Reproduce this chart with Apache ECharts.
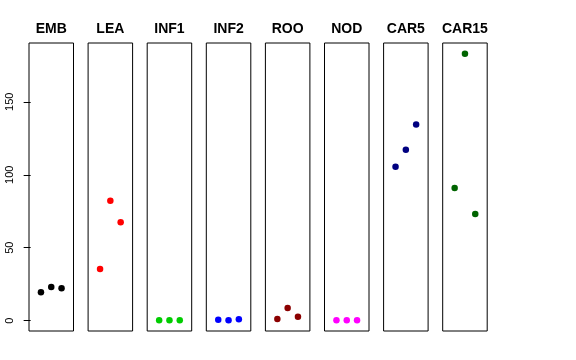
<!DOCTYPE html>
<html><head><meta charset="utf-8">
<script src="https://cdn.jsdelivr.net/npm/echarts@6/dist/echarts.min.js"></script>
<style>html,body{margin:0;padding:0;background:#fff}#c{width:576px;height:360px}</style>
</head><body><div id="c"></div>
<script>
const categories = ['EMB','LEA','INF1','INF2','ROO','NOD','CAR5','CAR15'];
const colors = ['#000000','#FF0000','#00CD00','#0000FF','#8B0000','#FF00FF','#000080','#006400'];
const EMB = [19.5, 23.1, 22.2];
const LEA = [35.4, 82.2, 67.4];
const INF1 = [0.3, 0.3, 0.3];
const INF2 = [0.7, 0.3, 1.0];
const ROO = [1.2, 8.7, 2.7];
const NOD = [0.4, 0.4, 0.4];
const CAR5 = [105.5, 117.1, 134.5];
const CAR15 = [90.9, 182.9, 73.1];
const yTicks = [0, 50, 100, 150];
const seriesValues = [EMB, LEA, INF1, INF2, ROO, NOD, CAR5, CAR15];

const grids = [], xAxes = [], yAxes = [], series = [], titles = [];
const left0 = 29, step = 59.1, panelW = 44.5, panelTop = 43, panelH = 288;
categories.forEach((name, i) => {
  const l = left0 + step * i;
  grids.push({left: l, top: panelTop, width: panelW, height: panelH, show: true, borderColor: '#000', borderWidth: 1, backgroundColor: 'transparent'});
  xAxes.push({gridIndex: i, type: 'value', min: -0.16, max: 4.16, show: false});
  yAxes.push({gridIndex: i, type: 'value', min: -7.05, max: 190.3, show: i === 0,
    splitLine: {show: false}, axisLine: {show: false},
    axisTick: {show: true, length: 7, customValues: yTicks, lineStyle: {color: '#000', width: 1}},
    axisLabel: {show: true, customValues: yTicks, rotate: 90, margin: 14, fontSize: 11, color: '#000', fontFamily: 'Liberation Sans'}
  });
  series.push({type: 'scatter', xAxisIndex: i, yAxisIndex: i, symbol: 'circle', symbolSize: 6.5,
    itemStyle: {color: colors[i], opacity: 1}, silent: true,
    data: seriesValues[i].map((v, k) => [k + 1, v])});
  titles.push({type: 'text', x: l + panelW / 2, y: 29, silent: true,
    style: {text: name, textAlign: 'center', textVerticalAlign: 'middle', fill: '#000',
      font: 'bold 14px "Liberation Sans"'}});
});

const chart = echarts.init(document.getElementById('c'), null, {renderer: 'canvas'});
chart.setOption({animation: false, graphic: titles, grid: grids, xAxis: xAxes, yAxis: yAxes, series: series});
</script></body></html>
